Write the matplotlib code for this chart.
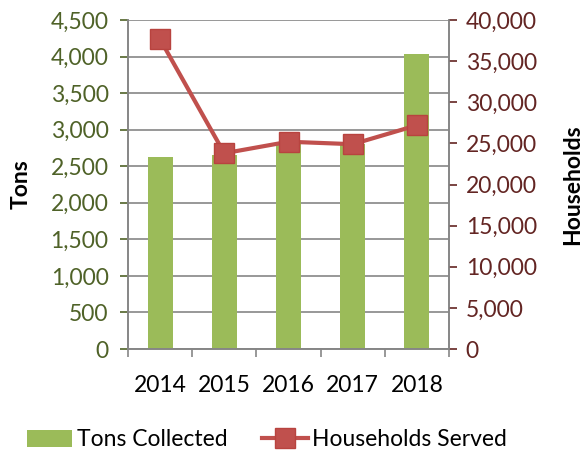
import matplotlib
matplotlib.use('Agg')
import matplotlib.pyplot as plt
import numpy as np
from matplotlib.ticker import FuncFormatter, MultipleLocator

years = ['2014', '2015', '2016', '2017', '2018']
tons = [2630, 2650, 2830, 2800, 4035]
households = [37650, 23800, 25200, 24900, 27200]

plt.rcParams['font.family'] = ['Lato', 'DejaVu Sans']

grey = '#868686'
fs = 16.5
fmt = FuncFormatter(lambda v, p: '{:,.0f}'.format(v))

fig = plt.figure(figsize=(5.85, 4.55), dpi=100)
ax = fig.add_axes([128/585, 1 - 349/455, 321/585, 329/455])
x = np.arange(len(years))

ax.bar(x, tons, width=0.39, color='#9BBB59', zorder=2, label='Tons Collected')
ax.set_xlim(-0.5, len(years) - 0.5)
ax.set_ylim(0, 4500)
ax.yaxis.set_major_locator(MultipleLocator(500))
ax.yaxis.set_major_formatter(fmt)
ax.grid(axis='y', color=grey, linewidth=1.2, zorder=0)
ax.set_axisbelow(True)
ax.set_xticks(x)
ax.set_xticklabels(years, fontsize=fs)
ax.set_xticks(np.arange(-0.5, len(years)), minor=True)
ax.tick_params(axis='x', which='major', length=0, pad=19)
ax.tick_params(axis='x', which='minor', length=6, color=grey, width=1.2)
ax.tick_params(axis='y', colors='#4F6228', labelsize=fs, length=6, width=1.2, pad=8)
for t in ax.get_yticklines():
    t.set_color(grey)
ax.set_ylabel('Tons', fontsize=fs, fontweight='bold')
ax.yaxis.set_label_coords(-0.30, 0.5)
ax.spines['top'].set_visible(False)
for s in ['left', 'bottom', 'right']:
    ax.spines[s].set_color(grey)
    ax.spines[s].set_linewidth(1.2)

ax2 = ax.twinx()
ax2.plot(x, households, color='#C0504D', linewidth=3, marker='s', markersize=14,
         markerfacecolor='#C0504D', markeredgecolor='#B8433F', zorder=3,
         label='Households Served')
ax2.set_ylim(0, 40000)
ax2.yaxis.set_major_locator(MultipleLocator(5000))
ax2.yaxis.set_major_formatter(fmt)
ax2.tick_params(axis='y', colors='#632523', labelsize=fs, length=6, width=1.2, pad=6)
for t in ax2.get_yticklines():
    t.set_color(grey)
ax2.set_ylabel('Households', fontsize=fs, fontweight='bold')
ax2.yaxis.set_label_coords(1.352, 0.5)
ax2.spines['top'].set_visible(False)
for s in ['left', 'bottom', 'right']:
    ax2.spines[s].set_color(grey)
    ax2.spines[s].set_linewidth(1.2)

h1, l1 = ax.get_legend_handles_labels()
h2, l2 = ax2.get_legend_handles_labels()
fig.legend(h1 + h2, l1 + l2, loc='center', bbox_to_anchor=(267/585, 1 - 440/455),
           ncol=2, frameon=False, fontsize=fs, handlelength=2.0,
           handletextpad=0.2, columnspacing=1.5)

fig.savefig('out.png', dpi=100)
